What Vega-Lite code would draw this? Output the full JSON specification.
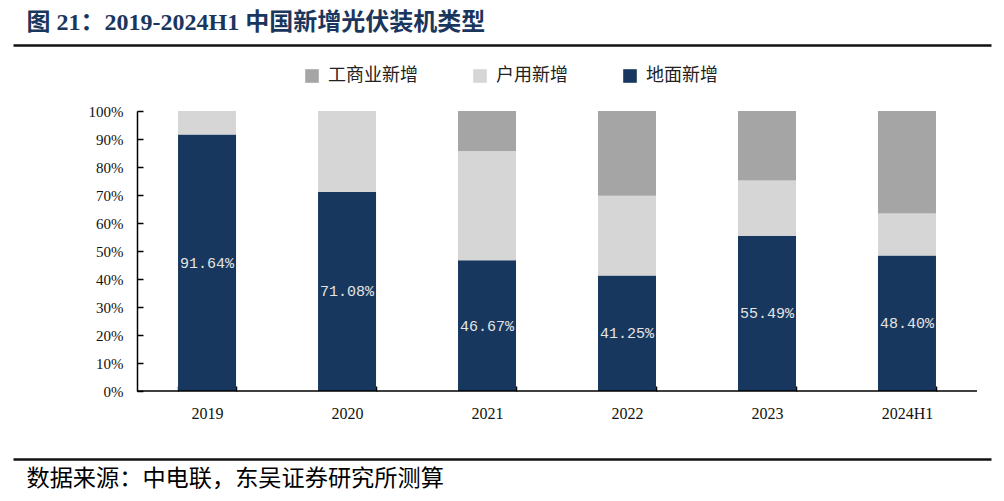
{
  "$schema": "https://vega.github.io/schema/vega-lite/v6.json",
  "width": 978,
  "height": 280,
  "autosize": {"type": "none"},
  "padding": {"left": 13, "top": 111, "right": 13, "bottom": 110},
  "background": "white",
  "config": {"view": {"stroke": null}, "axis": {"grid": false}},
  "datasets": {
    "shares": [
      {"year": "2019", "type": "地面新增", "value": 91.64},
      {"year": "2019", "type": "户用新增", "value": 8.36},
      {"year": "2019", "type": "工商业新增", "value": 0},
      {"year": "2020", "type": "地面新增", "value": 71.08},
      {"year": "2020", "type": "户用新增", "value": 28.92},
      {"year": "2020", "type": "工商业新增", "value": 0},
      {"year": "2021", "type": "地面新增", "value": 46.67},
      {"year": "2021", "type": "户用新增", "value": 39.03},
      {"year": "2021", "type": "工商业新增", "value": 14.3},
      {"year": "2022", "type": "地面新增", "value": 41.25},
      {"year": "2022", "type": "户用新增", "value": 28.45},
      {"year": "2022", "type": "工商业新增", "value": 30.3},
      {"year": "2023", "type": "地面新增", "value": 55.49},
      {"year": "2023", "type": "户用新增", "value": 19.71},
      {"year": "2023", "type": "工商业新增", "value": 24.8},
      {"year": "2024H1", "type": "地面新增", "value": 48.4},
      {"year": "2024H1", "type": "户用新增", "value": 15.0},
      {"year": "2024H1", "type": "工商业新增", "value": 36.6}
    ],
    "baseline": [{"from": 0, "to": 6}]
  },
  "resolve": {"scale": {"x": "independent"}, "axis": {"x": "independent"}},
  "layer": [
    {
      "data": {"name": "shares"},
      "transform": [
        {"calculate": "indexof(['地面新增','户用新增','工商业新增'], datum.type)", "as": "stackOrder"}
      ],
      "mark": {"type": "bar"},
      "encoding": {
        "x": {
          "field": "year", "type": "nominal", "sort": null,
          "scale": {"type": "band", "paddingInner": 0.5857, "paddingOuter": 0.786, "align": 0.75},
          "axis": {
            "orient": "top", "offset": -280, "title": null, "domain": false,
            "ticks": true, "tickBand": "extent", "tickSize": 5, "tickColor": "#000", "tickWidth": 1.5,
            "labelAngle": 0, "labelFont": "Liberation Serif", "labelFontSize": 16, "labelColor": "#111",
            "labelBaseline": "middle", "labelAlign": "center", "labelPadding": -27
          }
        },
        "y": {
          "field": "value", "type": "quantitative", "stack": "zero",
          "scale": {"domain": [0, 100], "nice": false},
          "axis": {
            "orient": "right", "offset": -854, "title": null, "tickCount": 10, "ticks": true,
            "labelExpr": "datum.value + '%'", "labelOverlap": false,
            "domainColor": "#000", "domainWidth": 1.5,
            "tickSize": 6, "tickColor": "#000", "tickWidth": 1.5,
            "labelFont": "Liberation Serif", "labelFontSize": 15, "labelColor": "#111",
            "labelAlign": "right", "labelPadding": -20
          }
        },
        "color": {
          "field": "type", "type": "nominal",
          "scale": {"domain": ["工商业新增", "户用新增", "地面新增"], "range": ["#a5a5a5", "#d6d6d6", "#17375e"]},
          "legend": {
            "title": null, "orient": "none", "legendX": 290, "legendY": -44, "direction": "horizontal",
            "symbolType": "square", "symbolSize": 185, "symbolStrokeWidth": 0,
            "labelFont": "Noto Sans CJK SC", "labelFontSize": 18, "labelColor": "#222",
            "columnPadding": 53, "labelOffset": 7, "labelLimit": 300
          }
        },
        "order": {"field": "stackOrder", "type": "quantitative"}
      }
    },
    {
      "data": {"name": "shares"},
      "transform": [
        {"filter": "datum.type === '地面新增'"},
        {"calculate": "datum.value / 2", "as": "mid"},
        {"calculate": "format(datum.value, '.2f') + '%'", "as": "label"}
      ],
      "mark": {"type": "text", "font": "Liberation Mono", "fontSize": 15, "color": "#e4e4e4", "baseline": "middle", "align": "center"},
      "encoding": {
        "x": {
          "field": "year", "type": "nominal", "sort": null, "bandPosition": 0.5,
          "scale": {"type": "band", "paddingInner": 0.5857, "paddingOuter": 0.786, "align": 0.75},
          "axis": {
            "orient": "top", "offset": 66, "domain": true, "domainColor": "#111", "domainWidth": 2.5,
            "ticks": false, "labels": false,
            "title": "图 21：2019-2024H1 中国新增光伏装机类型",
            "titleFont": "Liberation Serif, Noto Sans CJK SC", "titleFontSize": 24, "titleFontWeight": "bold",
            "titleColor": "#1b365d", "titleX": 13, "titleY": -23, "titleAlign": "left", "titleBaseline": "middle", "titleAngle": 0
          }
        },
        "y": {
          "field": "mid", "type": "quantitative",
          "axis": {
            "orient": "right", "offset": -854, "title": null, "tickCount": 10, "ticks": true,
            "labelExpr": "datum.value + '%'", "labelOverlap": false,
            "domainColor": "#000", "domainWidth": 1.5,
            "tickSize": 6, "tickColor": "#000", "tickWidth": 1.5,
            "labelFont": "Liberation Serif", "labelFontSize": 15, "labelColor": "#111",
            "labelAlign": "right", "labelPadding": -20
          }
        },
        "text": {"field": "label"}
      }
    },
    {
      "data": {"name": "baseline"},
      "mark": {"type": "rule", "color": "#000", "strokeWidth": 1.5},
      "encoding": {
        "x": {
          "field": "from", "type": "quantitative",
          "scale": {"domain": [-0.8857, 6.1], "nice": false, "zero": false},
          "axis": {
            "orient": "bottom", "offset": 68, "domain": true, "domainColor": "#111", "domainWidth": 2.5,
            "ticks": false, "labels": false, "grid": false,
            "title": "数据来源：中电联，东吴证券研究所测算",
            "titleFont": "Liberation Serif, Noto Sans CJK SC", "titleFontSize": 23.2, "titleFontWeight": "normal",
            "titleColor": "#000", "titleX": 13, "titleY": 19, "titleAlign": "left", "titleBaseline": "middle", "titleAngle": 0
          }
        },
        "x2": {"field": "to"},
        "y": {"datum": 0}
      }
    }
  ]
}
